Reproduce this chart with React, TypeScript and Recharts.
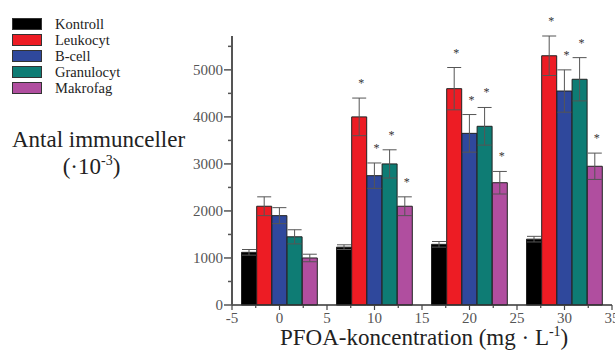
import { ComposedChart, Bar, Cell, ErrorBar, XAxis, YAxis, LabelList } from 'recharts'

// PFOA dose groups (mg/L) and the five cell series
const doses = [0, 10, 20, 30]
const seriesNames = ['Kontroll', 'Leukocyt', 'B-cell', 'Granulocyt', 'Makrofag']
const COLORS = ['#000000', '#ed1c24', '#2f489c', '#0e7c74', '#b04e9f']

const kontroll = [1120, 1230, 1290, 1400]
const kontrollErr = [60, 50, 60, 60]
const leukocyt = [2100, 4000, 4600, 5300]
const leukocytErr = [200, 400, 450, 420]
const bcell = [1900, 2750, 3650, 4550]
const bcellErr = [170, 270, 400, 450]
const granulocyt = [1450, 3000, 3800, 4800]
const granulocytErr = [150, 300, 400, 460]
const makrofag = [1000, 2100, 2600, 2950]
const makrofagErr = [80, 200, 240, 280]

// significance markers per dose group
const kontrollStar = [false, false, false, false]
const leukocytStar = [false, true, true, true]
const bcellStar = [false, true, true, true]
const granulocytStar = [false, true, true, true]
const makrofagStar = [false, true, true, true]

const xTicks = [-5, -2.5, 0, 2.5, 5, 7.5, 10, 12.5, 15, 17.5, 20, 22.5, 25, 27.5, 30, 32.5, 35]
const yTicks = [0, 500, 1000, 1500, 2000, 2500, 3000, 3500, 4000, 4500, 5000, 5500]

const BAR_OFFSETS = [-3.2, -1.6, 0, 1.6, 3.2]

const values = [kontroll, leukocyt, bcell, granulocyt, makrofag]
const errors = [kontrollErr, leukocytErr, bcellErr, granulocytErr, makrofagErr]
const stars = [kontrollStar, leukocytStar, bcellStar, granulocytStar, makrofagStar]

type Row = { x: number; value: number; err: number; star: boolean; color: string }
const rows: Row[] = []
doses.forEach((d, g) => {
  seriesNames.forEach((_, s) => {
    rows.push({
      x: d + BAR_OFFSETS[s],
      value: values[s][g],
      err: errors[s][g],
      star: stars[s][g],
      color: COLORS[s],
    })
  })
})

const SERIF = '"Liberation Serif", "DejaVu Serif", serif'

function YTick(props: any) {
  const { x, y, payload } = props
  const major = payload.value % 1000 === 0
  return (
    <g>
      <line x1={x - (major ? 8 : 4)} x2={x} y1={y} y2={y} stroke="#555" strokeWidth={1.5} />
      {major && (
        <text x={x - 9} y={y} dy={5} textAnchor="end" fontSize={15} fontFamily={SERIF} fill="#555">
          {payload.value}
        </text>
      )}
    </g>
  )
}

function XTick(props: any) {
  const { x, y, payload } = props
  const major = payload.value % 5 === 0
  return (
    <g>
      <line x1={x} x2={x} y1={y} y2={y + (major ? 5 : 3)} stroke="#444" strokeWidth={1.2} />
      {major && (
        <text x={x} y={y + 18} textAnchor="middle" fontSize={15} fontFamily={SERIF} fill="#555">
          {payload.value}
        </text>
      )}
    </g>
  )
}

function renderStar(props: any) {
  const { x, y, width, height, index } = props
  const r = rows[index]
  if (!r || !r.star) return null
  const pxPer = height / r.value
  const top = y - r.err * pxPer
  return (
    <text x={x + width / 2 + 2} y={top - 11} textAnchor="middle" fontSize={12} fontFamily={SERIF} fill="#333">
      *
    </text>
  )
}

export default function App() {
  return (
    <div style={{ position: 'absolute', left: 0, top: 0, width: 615, height: 352, background: '#fff', fontFamily: SERIF }}>
      <ComposedChart width={615} height={352} data={rows} margin={{ top: 36, right: 3, bottom: 0, left: 0 }}>
        <XAxis
          type="number"
          dataKey="x"
          domain={[-5, 35]}
          ticks={xTicks}
          interval={0}
          height={47}
          tickSize={0}
          tickMargin={0}
          tickLine={false}
          tick={<XTick />}
          axisLine={{ stroke: '#333', strokeWidth: 1.5 }}
        />
        <YAxis
          type="number"
          domain={[0, 5700]}
          ticks={yTicks}
          interval={0}
          width={232}
          tickSize={0}
          tickMargin={0}
          tickLine={false}
          tick={<YTick />}
          axisLine={{ stroke: '#555', strokeWidth: 2 }}
        />
        <Bar dataKey="value" barSize={15} isAnimationActive={false}>
          {rows.map((r, i) => (
            <Cell key={i} fill={r.color} stroke="#222" strokeWidth={1} />
          ))}
          <ErrorBar dataKey="err" width={7} stroke="#555" strokeWidth={1} direction="y" />
          <LabelList dataKey="value" content={renderStar} />
        </Bar>
      </ComposedChart>

      {/* legend */}
      <div style={{ position: 'absolute', left: 12, top: 16 }}>
        {seriesNames.map((name, i) => (
          <div key={name} style={{ display: 'flex', alignItems: 'center', height: 16 }}>
            <div style={{ width: 28, height: 10, background: COLORS[i], border: '1px solid #333' }} />
            <span style={{ marginLeft: 13, fontSize: 14.5, color: '#222', lineHeight: '16px' }}>{name}</span>
          </div>
        ))}
      </div>

      {/* y-axis title */}
      <div style={{ position: 'absolute', left: 0, top: 126, width: 197, textAlign: 'center', fontSize: 23, color: '#222', lineHeight: '27px' }}>
        <div>Antal immunceller</div>
        <div style={{ marginLeft: -14 }}>
          (·10<sup style={{ fontSize: 14, lineHeight: 0 }}>-3</sup>)
        </div>
      </div>

      {/* x-axis title */}
      <div style={{ position: 'absolute', left: 280, top: 325, fontSize: 23, color: '#222', whiteSpace: 'nowrap', lineHeight: '26px' }}>
        PFOA-koncentration (mg · L<sup style={{ fontSize: 14, lineHeight: 0 }}>-1</sup>)
      </div>
    </div>
  )
}
